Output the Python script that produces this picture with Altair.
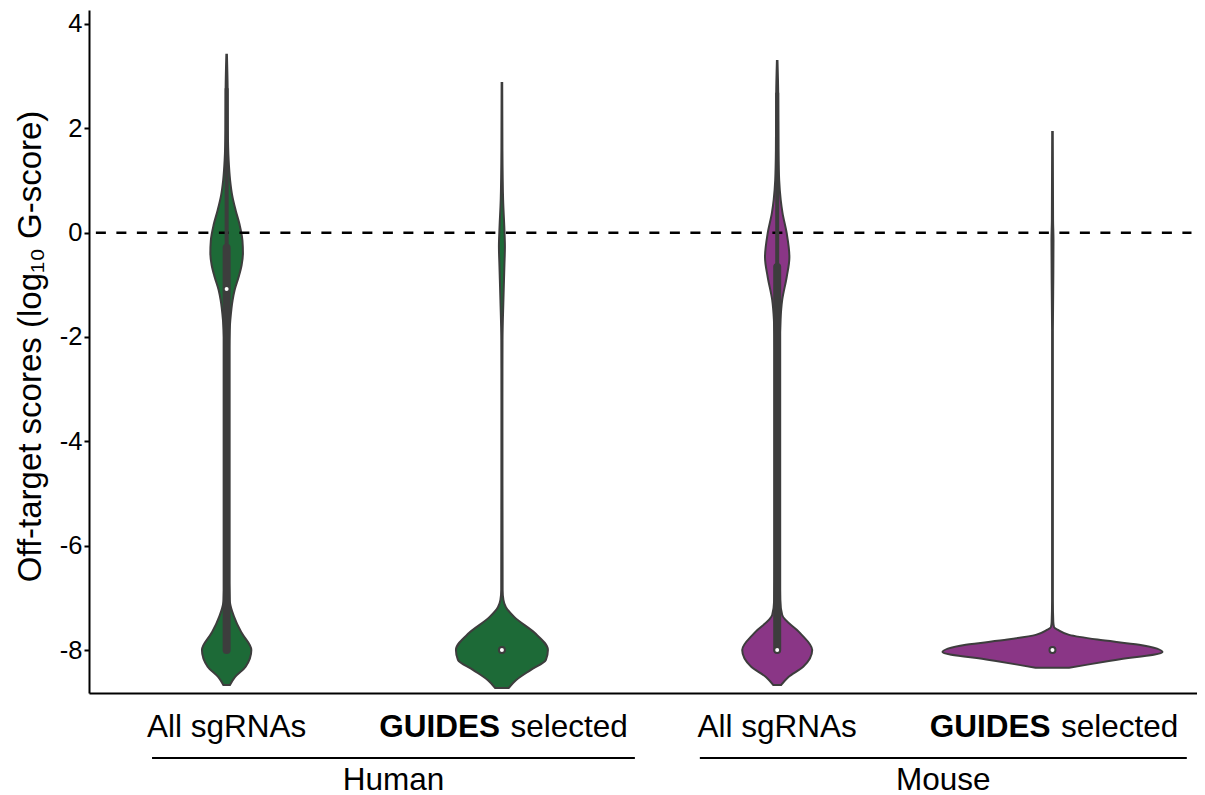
import altair as alt
import pandas as pd

FONT = "Liberation Sans"
GREY = "#3d3d3d"

# ---------------- data ----------------
violin_names = ["Human All", "Human GUIDES", "Mouse All", "Mouse GUIDES"]
violin_pos = [0.5, 1.5, 2.5, 3.5]
violin_colors = ["#1d6a37", "#1d6a37", "#8a3686", "#8a3686"]

# density profiles: score (log10 G-score) and relative half-width
h_all_y = [3.41, 2.77, 1.97, 1.39, 1.00, 0.72, 0.43, 0.15, -0.15, -0.39, -0.62, -0.85,
           -1.10, -1.29, -1.67, -2.06, -2.82, -6.27, -7.04, -7.26, -7.48, -7.67, -8.00,
           -8.32, -8.52, -8.67]
h_all_w = [0.3, 1.0, 1.2, 2.0, 3.5, 5.5, 9.0, 13.0, 15.8, 16.3, 15.0, 12.0,
           8.0, 6.0, 3.7, 2.5, 2.0, 2.0, 3.0, 5.5, 10.0, 15.0, 24.7,
           19.0, 8.3, 3.3]

h_gui_y = [2.87, 1.58, 0.63, 0.05, -0.27, -0.62, -1.29, -2.06, -3.20, -6.85, -7.04, -7.18,
           -7.37, -7.67, -8.00, -8.19, -8.38, -8.58, -8.73]
h_gui_w = [0.3, 0.5, 1.2, 2.5, 3.0, 2.5, 1.5, 0.6, 0.5, 0.7, 1.5, 4.0,
           12.5, 32.7, 46.0, 44.0, 29.0, 14.0, 6.7]

m_all_y = [3.29, 2.68, 1.58, 1.00, 0.63, 0.38, -0.01, -0.47, -0.85, -1.29, -1.67, -2.25,
           -6.27, -7.04, -7.33, -7.67, -8.00, -8.32, -8.52, -8.67]
m_all_w = [0.3, 1.0, 1.3, 2.0, 3.5, 5.3, 9.5, 12.2, 9.5, 5.0, 3.3, 2.5,
           2.5, 3.0, 5.0, 22.7, 35.0, 26.0, 11.0, 4.0]

m_gui_y = [1.93, 0.24, -0.14, -0.91, -1.87, -7.04, -7.46, -7.56, -7.62, -7.71, -7.80,
           -7.90, -8.04, -8.19, -8.28, -8.34]
m_gui_w = [0.3, 0.6, 1.0, 0.8, 0.4, 0.4, 0.8, 1.5, 6.0, 16.7, 45.0,
           86.7, 110.0, 63.0, 35.0, 16.7]

profiles_y = [h_all_y, h_gui_y, m_all_y, m_gui_y]
profiles_w = [h_all_w, h_gui_w, m_all_w, m_gui_w]

# inner box summaries
whisker_hi = [2.77, -8.0, 2.68, -8.0]
q3_vals = [-0.29, -8.0, -0.66, -8.0]
median_vals = [-1.08, -8.0, -8.0, -8.0]
q1_vals = [-8.0, -8.0, -8.0, -8.0]

# labels
cat_labels = ["All sgRNAs", "GUIDES selected", "All sgRNAs", "GUIDES selected"]
group_names = ["Human", "Mouse"]
group_start = [0.229, 2.219]
group_end = [1.983, 3.988]
hline_value = [0.0]
y_ticks = [-8, -6, -4, -2, 0, 2, 4]

# ---------------- tables ----------------
W_SCALE = 1 / 275.3
rows = []
for name, pos, ys, ws in zip(violin_names, violin_pos, profiles_y, profiles_w):
    for yv, wv in zip(ys, ws):
        rows.append({"violin": name, "score": yv,
                     "lo": pos - wv * W_SCALE, "hi": pos + wv * W_SCALE})
df_v = pd.DataFrame(rows)

df_box = pd.DataFrame({"violin": violin_names, "pos": violin_pos,
                       "whi": whisker_hi, "q3": q3_vals, "q1": q1_vals,
                       "med": median_vals})

df_cat = pd.DataFrame({"pos": violin_pos, "label": cat_labels})
df_plain = df_cat[df_cat["label"] == "All sgRNAs"]
df_bold = df_cat[df_cat["label"] != "All sgRNAs"].assign(
    b=lambda d: d["label"].str.split(" ").str[0],
    r=lambda d: d["label"].str.split(" ").str[1])
df_grp = pd.DataFrame({"name": group_names, "start": group_start, "end": group_end})
df_grp["mid"] = (df_grp["start"] + df_grp["end"]) / 2
df_h = pd.DataFrame({"y": hline_value, "x0": [0.025], "x1": [4.005]})

PW, PH = 1108, 683
xscale = alt.Scale(domain=[0, 4.025], nice=False, zero=False)
yscale = alt.Scale(domain=[-8.824, 4.268], nice=False, zero=False)

yaxis = alt.Axis(values=y_ticks, labelExpr="'' + datum.value", grid=False,
                 domainColor="black", domainWidth=2, tickColor="black", tickWidth=2,
                 tickSize=5, labelFontSize=25.5, labelColor="black", labelFont=FONT,
                 labelPadding=2, title="Off-target scores (log\u2081\u2080 G-score)",
                 titleFont=FONT, titleFontSize=33, titleFontWeight="normal",
                 titleColor="black", titleX=-49, titleY=336, titleBaseline="alphabetic")
xaxis = alt.Axis(labels=False, ticks=False, grid=False, title=None,
                 domainColor="black", domainWidth=2)

base_v = alt.Chart(df_v)
violins = base_v.mark_area(orient="horizontal", interpolate="monotone",
                           stroke=GREY, strokeWidth=2, opacity=1).encode(
    y=alt.Y("score:Q", scale=yscale, axis=yaxis),
    x=alt.X("lo:Q", scale=xscale, axis=xaxis),
    x2="hi:Q",
    color=alt.Color("violin:N", scale=alt.Scale(domain=violin_names, range=violin_colors),
                    legend=None),
)

hline = alt.Chart(df_h).mark_rule(color="black", strokeWidth=2.5, strokeDash=[10, 10.5]).encode(
    y=alt.Y("y:Q", scale=yscale), x=alt.X("x0:Q", scale=xscale), x2="x1:Q")

whisk = alt.Chart(df_box).mark_rule(color=GREY, strokeWidth=4).encode(
    x=alt.X("pos:Q", scale=xscale), y=alt.Y("q3:Q", scale=yscale), y2="whi:Q")
box = alt.Chart(df_box).mark_rule(color=GREY, strokeWidth=8, strokeCap="round").encode(
    x=alt.X("pos:Q", scale=xscale), y=alt.Y("q1:Q", scale=yscale), y2="q3:Q")
med = alt.Chart(df_box).mark_point(shape="circle", filled=False, fill="white", stroke=GREY,
                                   strokeWidth=1.5, size=30, opacity=1, fillOpacity=1).encode(
    x=alt.X("pos:Q", scale=xscale), y=alt.Y("med:Q", scale=yscale))

LABEL_Y = PH + 44
FS = 31.5
plain = alt.Chart(df_plain).mark_text(font=FONT, fontSize=FS, color="black", align="center",
                                      baseline="alphabetic").encode(
    x=alt.X("pos:Q", scale=xscale), y=alt.value(LABEL_Y), text="label:N")
boldp = alt.Chart(df_bold).mark_text(font=FONT, fontSize=FS, fontWeight="bold", color="black",
                                     align="right", baseline="alphabetic", dx=-2).encode(
    x=alt.X("pos:Q", scale=xscale), y=alt.value(LABEL_Y), text="b:N")
regp = alt.Chart(df_bold).mark_text(font=FONT, fontSize=FS, color="black", align="left",
                                    baseline="alphabetic", dx=8.5).encode(
    x=alt.X("pos:Q", scale=xscale), y=alt.value(LABEL_Y), text="r:N")

grp_line = alt.Chart(df_grp).mark_rule(color="black", strokeWidth=2).encode(
    x=alt.X("start:Q", scale=xscale), x2="end:Q", y=alt.value(PH + 65))
grp_text = alt.Chart(df_grp).mark_text(font=FONT, fontSize=FS, color="black", align="center",
                                       baseline="alphabetic").encode(
    x=alt.X("mid:Q", scale=xscale), y=alt.value(PH + 97), text="name:N")

chart = alt.layer(violins, hline, whisk, box, med, plain, boldp, regp, grp_line, grp_text).properties(
    width=PW, height=PH, autosize="none",
    padding={"left": 81, "top": 2, "right": 0, "bottom": 106},
).configure_view(stroke=None)

chart.save("out.html", embed_options={"renderer": "svg", "actions": False})
